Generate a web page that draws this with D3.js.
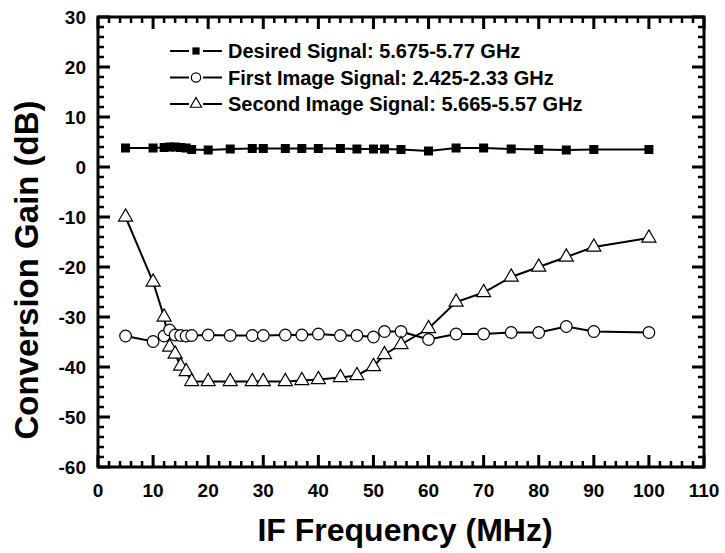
<html lang="en">
<head>
<meta charset="utf-8">
<title>Conversion Gain vs IF Frequency</title>
<script src="https://cdn.jsdelivr.net/npm/d3@7"></script>
<style>
    body { margin: 0; background: #fff; }
    svg { font-family: "Liberation Sans", Arial, sans-serif; font-weight: bold; }
    .ticklabel { font-size: 19px; font-weight: bold; fill: #000; }
</style>
</head>
<body>
<svg id="chart"></svg>
<script>
    // values
    var freqs = [5, 10, 12, 13, 14, 15, 16, 17, 20, 24, 28, 30, 34, 37, 40, 44, 47, 50, 52, 55, 60, 65, 70, 75, 80, 85, 90, 100];
    var desiredGain = [3.8, 3.8, 3.9, 4.0, 4.0, 3.9, 3.8, 3.5, 3.4, 3.6, 3.7, 3.7, 3.7, 3.7, 3.7, 3.7, 3.6, 3.6, 3.6, 3.5, 3.2, 3.8, 3.8, 3.6, 3.5, 3.4, 3.5, 3.5];
    var firstImageGain = [-33.8, -34.9, -33.8, -32.6, -33.6, -33.7, -33.8, -33.7, -33.6, -33.7, -33.7, -33.7, -33.6, -33.6, -33.4, -33.7, -33.7, -34.0, -32.9, -32.9, -34.5, -33.4, -33.4, -33.1, -33.1, -31.9, -32.9, -33.1];
    var secondImageGain = [-10, -23, -30, -36, -37.4, -39.8, -40.9, -42.9, -42.9, -42.9, -42.9, -42.9, -42.9, -42.7, -42.5, -42.1, -41.7, -39.9, -37.5, -35.5, -32.3, -27, -25.1, -22, -20, -18, -16, -14.2];
    var seriesNames = ["Desired Signal: 5.675-5.77 GHz", "First Image Signal: 2.425-2.33 GHz", "Second Image Signal: 5.665-5.57 GHz"];
    var xTicks = [0, 10, 20, 30, 40, 50, 60, 70, 80, 90, 100, 110];
    var yTicks = [-60, -50, -40, -30, -20, -10, 0, 10, 20, 30];

    var W = 725, H = 553;
    var margin = {top: 17, right: 21, bottom: 86, left: 98};
    var plotW = W - margin.left - margin.right,
        plotH = H - margin.top - margin.bottom;

    var svg = d3.select("#chart").attr("width", W).attr("height", H);
    var g = svg.append("g").attr("transform", "translate(" + margin.left + "," + margin.top + ")");

    var x = d3.scaleLinear().domain([0, 110]).range([0, plotW]);
    var y = d3.scaleLinear().domain([-60, 30]).range([plotH, 0]);

    var minorX = d3.range(0, 111, 2).filter(function (v) { return v % 10 !== 0; }),
        minorY = d3.range(-60, 31, 2).filter(function (v) { return v % 10 !== 0; });

    // frame
    g.append("rect")
        .attr("width", plotW).attr("height", plotH)
        .attr("fill", "none").attr("stroke", "#000").attr("stroke-width", 3);

    // inward tick marks on all four sides, drawn as thin rects
    function tickMarks(xs, ys, len, th) {
        var t = g.append("g").attr("fill", "#000");
        xs.forEach(function (v) {
            var px = x(v);
            t.append("rect").attr("x", px - th / 2).attr("y", plotH - len).attr("width", th).attr("height", len);
            t.append("rect").attr("x", px - th / 2).attr("y", 0).attr("width", th).attr("height", len);
        });
        ys.forEach(function (v) {
            var py = y(v);
            t.append("rect").attr("x", 0).attr("y", py - th / 2).attr("width", len).attr("height", th);
            t.append("rect").attr("x", plotW - len).attr("y", py - th / 2).attr("width", len).attr("height", th);
        });
    }
    tickMarks(minorX, minorY, 6, 2.5);
    tickMarks(xTicks, yTicks, 12, 3);

    // tick labels (plain hyphen for negatives, as in the original)
    g.append("g").selectAll("text").data(xTicks).enter().append("text")
        .attr("class", "ticklabel")
        .attr("x", function (d) { return x(d); }).attr("y", plotH + 30)
        .attr("text-anchor", "middle")
        .text(function (d) { return d; });

    g.append("g").selectAll("text").data(yTicks).enter().append("text")
        .attr("class", "ticklabel")
        .attr("x", -12).attr("y", function (d) { return y(d); }).attr("dy", "0.36em")
        .attr("text-anchor", "end")
        .text(function (d) { return String(d); });

    var line = d3.line()
        .x(function (d) { return x(d[0]); })
        .y(function (d) { return y(d[1]); });

    var series = [desiredGain, firstImageGain, secondImageGain].map(function (vals) {
        return freqs.map(function (f, i) { return [f, vals[i]]; });
    });

    series.forEach(function (pts) {
        g.append("path").attr("d", line(pts))
            .attr("fill", "none").attr("stroke", "#000").attr("stroke-width", 2);
    });

    function drawMarker(sel, k, s) {
        if (k === 0) {
            sel.append("rect").attr("x", -4.5 * s).attr("y", -4.5 * s)
                .attr("width", 9 * s).attr("height", 9 * s).attr("fill", "#000");
        } else if (k === 1) {
            sel.append("circle").attr("r", 5.8 * s).attr("fill", "#fff")
                .attr("stroke", "#000").attr("stroke-width", 1.2);
        } else {
            sel.append("path").attr("d", d3.symbol().type(d3.symbolTriangle).size(85 * s * s))
                .attr("fill", "#fff").attr("stroke", "#000").attr("stroke-width", 1.2);
        }
    }

    series.forEach(function (pts, k) {
        g.append("g").selectAll("g")
            .data(pts).enter().append("g")
            .attr("transform", function (d) { return "translate(" + x(d[0]) + "," + y(d[1]) + ")"; })
            .each(function () { drawMarker(d3.select(this), k, 1); });
    });

    // legend
    var legend = svg.append("g").attr("transform", "translate(170,51)");
    seriesNames.forEach(function (name, k) {
        var row = legend.append("g").attr("transform", "translate(0," + (k * 26.5) + ")");
        row.append("line").attr("x1", 0).attr("x2", 19).attr("y1", 0).attr("y2", 0)
            .attr("stroke", "#000").attr("stroke-width", 2);
        row.append("line").attr("x1", 33).attr("x2", 52).attr("y1", 0).attr("y2", 0)
            .attr("stroke", "#000").attr("stroke-width", 2);
        drawMarker(row.append("g").attr("transform", "translate(26,0)"), k, 0.8);
        row.append("text").attr("x", 58).attr("dy", "0.36em")
            .style("font-size", "20px").style("font-weight", "bold")
            .text(name);
    });

    // axis titles
    svg.append("text")
        .attr("x", 405).attr("y", 541)
        .attr("text-anchor", "middle")
        .style("font-size", "32px").style("font-weight", "bold")
        .text("IF Frequency (MHz)");

    svg.append("text")
        .attr("transform", "translate(38,270) rotate(-90)")
        .attr("text-anchor", "middle")
        .style("font-size", "33px").style("font-weight", "bold")
        .text("Conversion Gain (dB)");
</script>
</body>
</html>
